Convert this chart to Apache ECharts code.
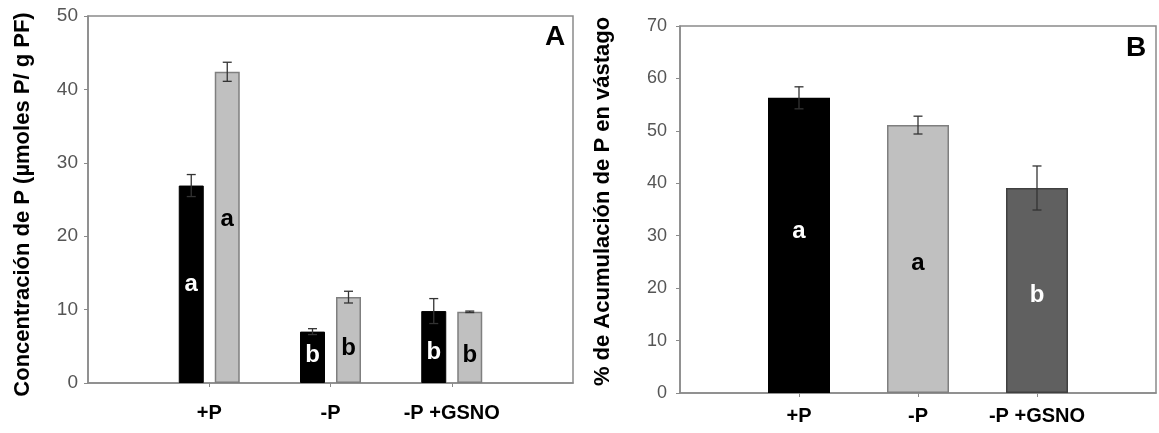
<!DOCTYPE html>
<html>
<head>
<meta charset="utf-8">
<script src="https://cdn.jsdelivr.net/npm/echarts@6/dist/echarts.min.js"></script>
<style>
  html, body { margin: 0; padding: 0; background: #ffffff; }
  #chart { width: 1159px; height: 433px; }
</style>
</head>
<body>
<div id="chart"></div>
<script>
// Treatments shown on both panels
const treatments = ['+P', '-P', '-P +GSNO'];

// Panel A: P concentration (µmol P / g FW), two bars per treatment
const concDark = [26.9, 7.0, 9.8];
const concDarkErr = [1.5, 0.4, 1.7];
const concLight = [42.4, 11.7, 9.7];
const concLightErr = [1.3, 0.8, 0.1];
const concDarkLetters = ['a', 'b', 'b'];
const concLightLetters = ['a', 'b', 'b'];

// Panel B: % of P accumulated in the shoot
const shootPct = [56.3, 51.1, 39.1];
const shootPctErr = [2.1, 1.7, 4.2];
const shootLetters = ['a', 'a', 'b'];

// Value-axis ranges
const concAxis = { min: 0, max: 50, step: 10 };
const shootAxis = { min: 0, max: 70, step: 10 };

// ---- layout / style constants ----
const FONT = '"Liberation Sans", Arial, sans-serif';
const AXIS_GREY = '#8a8a8a';
const BAR_A = 25, GAP_A = 11;      // bar width and gap between paired bars (px)
const BAR_B = 62;
const OFFSET_A = (BAR_A + GAP_A) / 2;
// vertical nudges (px) of the significance letters inside the bars
const nudgeDarkA = [0, -2, 5];
const nudgeLightA = [-8, 8, 8];
const nudgeB = [-14, 4, 5];

// categories sit at slots 1..3 of a 0..4 axis
const slots = ['', ...treatments, ''];

function xAxisFor(gridIndex, margin) {
  return {
    type: 'category', gridIndex, data: slots, boundaryGap: false,
    axisLine: { lineStyle: { color: AXIS_GREY, width: 1.5 } },
    axisTick: { show: true, length: 4, inside: false, interval: (i) => i >= 1 && i <= 3,
                lineStyle: { color: AXIS_GREY } },
    axisLabel: { interval: 0, margin, fontFamily: FONT, fontSize: 20, fontWeight: 'bold', color: '#000' },
    splitLine: { show: false }
  };
}

function yAxisFor(gridIndex, range, name, nameGap, labelSize, labelMargin, namePad) {
  return {
    type: 'value', gridIndex, min: range.min, max: range.max, interval: range.step,
    name, nameLocation: 'middle', nameGap,
    nameTextStyle: { fontFamily: FONT, fontSize: 22, fontWeight: 'bold', color: '#000', padding: namePad },
    axisLine: { show: true, lineStyle: { color: AXIS_GREY, width: 1.5 } },
    axisTick: { show: true, length: 4, inside: false, lineStyle: { color: AXIS_GREY } },
    axisLabel: { fontFamily: FONT, fontSize: labelSize, color: '#555', margin: labelMargin },
    splitLine: { show: false }
  };
}

function barData(values, nudges) {
  return values.map((v, i) => ({ value: [i + 1, v], label: { offset: [0, nudges[i]] } }));
}

function letterLabel(letters, color) {
  return {
    show: true, position: 'inside', color,
    fontFamily: FONT, fontSize: 24, fontWeight: 'bold',
    formatter: (p) => letters[p.dataIndex]
  };
}

// error bars: vertical whisker with caps, shifted to the matching bar
function errorSeries(xi, yi, values, errs, dx) {
  return {
    type: 'custom', xAxisIndex: xi, yAxisIndex: yi, z: 10, silent: true,
    data: values.map((v, i) => [i + 1, v, errs[i]]),
    renderItem: (params, api) => {
      const x = api.value(0), v = api.value(1), e = api.value(2);
      const hi = api.coord([x, v + e]);
      const lo = api.coord([x, v - e]);
      const cx = hi[0] + dx, cap = 4.5;
      const style = { stroke: '#333', lineWidth: 1.3 };
      return {
        type: 'group',
        children: [
          { type: 'line', shape: { x1: cx, y1: hi[1], x2: cx, y2: lo[1] }, style },
          { type: 'line', shape: { x1: cx - cap, y1: hi[1], x2: cx + cap, y2: hi[1] }, style },
          { type: 'line', shape: { x1: cx - cap, y1: lo[1], x2: cx + cap, y2: lo[1] }, style }
        ]
      };
    }
  };
}

const shootColors = ['#000000', '#c0c0c0', '#606060'];
const shootBorders = ['#000000', '#7f7f7f', '#404040'];
const shootLetterColors = ['#ffffff', '#000000', '#ffffff'];

const option = {
  animation: false,
  backgroundColor: '#ffffff',
  grid: [
    { left: 88, top: 16, width: 485, height: 367, show: true, borderColor: AXIS_GREY, borderWidth: 1.5 },
    { left: 680, top: 26, width: 484, height: 367, show: true, borderColor: AXIS_GREY, borderWidth: 1.5 }
  ],
  xAxis: [xAxisFor(0, 20), xAxisFor(1, 13)],
  yAxis: [
    yAxisFor(0, concAxis, 'Concentración de P (µmoles P/ g PF)', 54, 19, 10, [0, 10, 0, 0]),
    yAxisFor(1, shootAxis, '% de Acumulación de P en vástago', 66, 18, 13, [0, 0, 0, 16])
  ],
  graphic: [
    { type: 'text', x: 555, y: 37, style: { text: 'A', font: 'bold 28px ' + FONT, fill: '#000', align: 'center', verticalAlign: 'middle' } },
    { type: 'text', x: 1136, y: 48, style: { text: 'B', font: 'bold 28px ' + FONT, fill: '#000', align: 'center', verticalAlign: 'middle' } }
  ],
  series: [
    {
      type: 'bar', xAxisIndex: 0, yAxisIndex: 0, barWidth: BAR_A, barGap: (GAP_A / BAR_A * 100) + '%',
      data: barData(concDark, nudgeDarkA),
      itemStyle: { color: '#000000', borderColor: '#000000', borderWidth: 1 },
      label: letterLabel(concDarkLetters, '#ffffff')
    },
    {
      type: 'bar', xAxisIndex: 0, yAxisIndex: 0, barWidth: BAR_A, barGap: (GAP_A / BAR_A * 100) + '%',
      data: barData(concLight, nudgeLightA),
      itemStyle: { color: '#c0c0c0', borderColor: '#7f7f7f', borderWidth: 1.5 },
      label: letterLabel(concLightLetters, '#000000')
    },
    errorSeries(0, 0, concDark, concDarkErr, -OFFSET_A),
    errorSeries(0, 0, concLight, concLightErr, OFFSET_A),
    {
      type: 'bar', xAxisIndex: 1, yAxisIndex: 1, barWidth: BAR_B,
      data: shootPct.map((v, i) => ({
        value: [i + 1, v],
        itemStyle: { color: shootColors[i], borderColor: shootBorders[i], borderWidth: 1.5 },
        label: { offset: [0, nudgeB[i]], color: shootLetterColors[i] }
      })),
      label: letterLabel(shootLetters, '#000000')
    },
    errorSeries(1, 1, shootPct, shootPctErr, 0)
  ]
};

const chart = echarts.init(document.getElementById('chart'), null, { renderer: 'canvas' });
chart.setOption(option);
</script>
</body>
</html>
